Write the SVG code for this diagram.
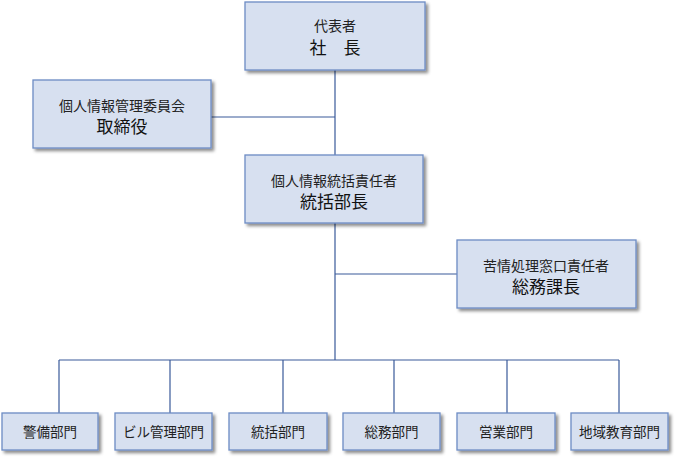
<svg xmlns="http://www.w3.org/2000/svg" width="675" height="464" viewBox="0 0 675 464">
<defs>
<filter id="sh" x="-10%" y="-10%" width="125%" height="130%">
<feDropShadow dx="2.5" dy="2.5" stdDeviation="1.5" flood-color="#000" flood-opacity="0.45"/>
</filter>
<style>
.box{fill:#d7e0f0;stroke:#6d8cc4;stroke-width:1.3;filter:url(#sh)}
.s{font-family:"Noto Sans CJK JP","Noto Sans CJK SC",sans-serif;font-size:14px;fill:#222;text-anchor:middle}
.b{font-family:"Noto Sans CJK JP","Noto Sans CJK SC",sans-serif;font-size:13.5px;fill:#222;text-anchor:middle}
.l{font-family:"Noto Sans CJK JP","Noto Sans CJK SC",sans-serif;font-size:17px;fill:#111;text-anchor:middle}
.c{fill:none;stroke:#3a5a9a;stroke-width:1.2}
</style>
</defs>
<g id="connectors">
<path class="c" d="M335 70V360M211 117H335M335 274H457M59 360H619M59 360V413M170 360V413M283 360V413M394 360V413M507 360V413M619 360V413"/>
</g>
<g id="president"><rect class="box" x="245" y="2" width="180" height="68"/><text class="s" x="335" y="31">代表者</text><text class="l" x="335" y="54">社　長</text></g>
<g id="committee"><rect class="box" x="33" y="80" width="178" height="68"/><text class="s" x="122" y="111">個人情報管理委員会</text><text class="l" x="122" y="133">取締役</text></g>
<g id="manager"><rect class="box" x="245" y="155" width="178" height="68"/><text class="s" x="334" y="186">個人情報統括責任者</text><text class="l" x="334" y="208">統括部長</text></g>
<g id="complaint"><rect class="box" x="457" y="240" width="179" height="68"/><text class="s" x="546" y="271">苦情処理窓口責任者</text><text class="l" x="546" y="293">総務課長</text></g>
<g id="d1"><rect class="box" x="2" y="413" width="96" height="37"/><text class="b" x="50" y="437">警備部門</text></g>
<g id="d2"><rect class="box" x="115" y="413" width="97" height="37"/><text class="b" x="163.5" y="437">ビル管理部門</text></g>
<g id="d3"><rect class="box" x="229" y="413" width="98" height="37"/><text class="b" x="278" y="437">統括部門</text></g>
<g id="d4"><rect class="box" x="343" y="413" width="97" height="37"/><text class="b" x="391.5" y="437">総務部門</text></g>
<g id="d5"><rect class="box" x="457" y="413" width="98" height="37"/><text class="b" x="506" y="437">営業部門</text></g>
<g id="d6"><rect class="box" x="571" y="413" width="97" height="37"/><text class="b" x="619.5" y="437">地域教育部門</text></g>
</svg>
